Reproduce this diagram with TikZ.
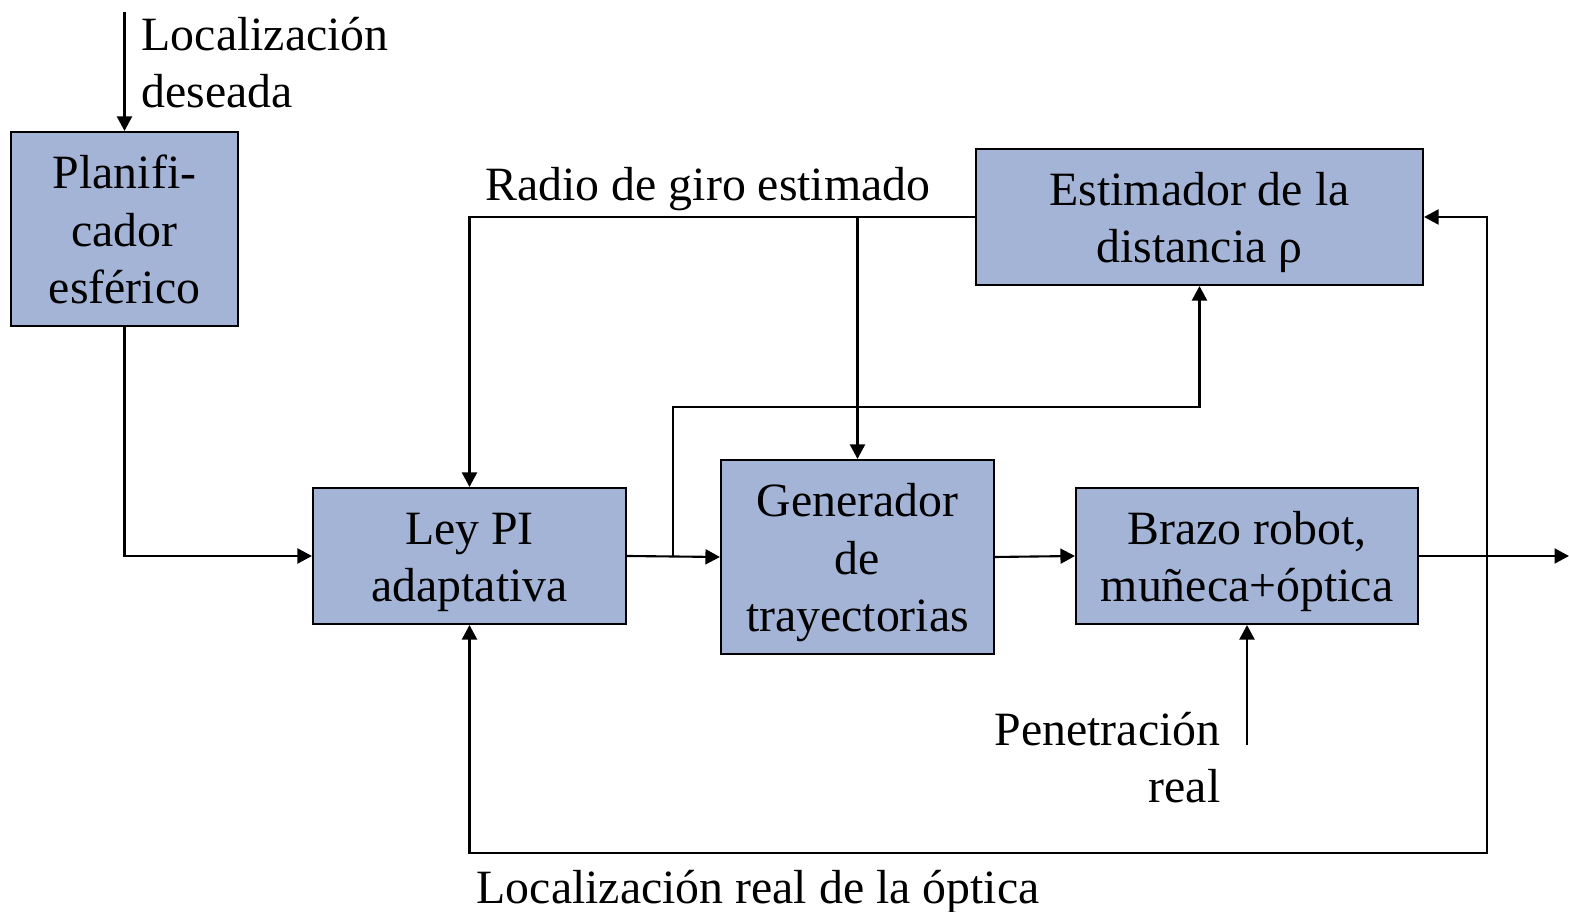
\documentclass[tikz,border=0pt]{standalone}
\usepackage{fontspec}
\setmainfont{Liberation Serif}
\usetikzlibrary{arrows.meta,positioning,calc}
\definecolor{steel}{RGB}{164,180,214}
\definecolor{ink}{RGB}{0,0,0}
\newcommand{\topgap}{\rule{0pt}{0.94em}}
\tikzset{
  >={Triangle[length=1.45mm,width=1.5mm]},
  box/.style={draw=ink,fill=steel,line width=0.6pt,inner sep=0pt,
    align=center,font=\fontsize{13.6}{16.3}\selectfont,
    execute at end node={\rule[-0.22em]{0pt}{0pt}}},
  flow/.style={->,line width=0.6pt,draw=ink},
  tag/.style={font=\fontsize{13.6}{16.3}\selectfont,inner sep=0pt},
}
\begin{document}
\begin{tikzpicture}
  \useasboundingbox (0,0) rectangle (15.69,9.12);
  % blocks
  \node[box,minimum width=22.7mm,minimum height=19.4mm] (plan) at (1.245,6.83) {\topgap Planifi-\\cador\\esférico};
  \node[box,minimum width=31.3mm,minimum height=13.6mm] (ley) at (4.695,3.56) {\topgap Ley PI\\adaptativa};
  \node[box,minimum width=27.3mm,minimum height=19.4mm] (gen) at (8.575,3.55) {\topgap Generador\\de\\trayectorias};
  \node[box,minimum width=34.2mm,minimum height=13.6mm] (brazo) at (12.47,3.56) {\topgap Brazo robot,\\muñeca+óptica};
  \node[box,minimum width=44.7mm,minimum height=13.6mm] (est) at (11.995,6.95) {\topgap Estimador de la\\distancia ρ};
  % free ends and branch points
  \coordinate (in) at (1.245,9.0);
  \coordinate (out) at (15.69,3.56);
  \coordinate (bra1) at (6.73,3.56);
  \coordinate (upturn) at (6.73,5.05);
  \coordinate (bra2) at (14.87,3.56);
  \coordinate (low) at (14.87,0.59);
  \coordinate (pen) at (12.47,1.67);
  \coordinate (tap) at (gen.north |- est.west);
  % connectors
  \draw[flow] (in) -- (plan.north);
  \draw[flow] (plan.south) |- (ley.west);
  \draw[flow] (ley.east) -- (gen.west);
  \draw[flow] (gen.east) -- (brazo.west);
  \draw[flow] (brazo.east) -- (out);
  \draw[flow] (bra1) -- (upturn) -| (est.south);
  \draw[flow] (est.west) -| (ley.north);
  \draw[flow] (tap) -- (gen.north);
  \draw[flow] (bra2) |- (est.east);
  \draw[flow] (bra2) -- (low) -| (ley.south);
  \draw[flow] (pen) -- (brazo.south);
  % labels
  \node[tag,anchor=base west,align=left] (tdes) at (1.41,8.04) {Localización\\deseada};
  \node[tag,anchor=base west] (tradio) at (4.85,7.11) {Radio de giro estimado};
  \node[tag,anchor=base east,align=right] (tpen) at (12.21,1.09) {Penetración\\real};
  \node[tag,anchor=base west] (treal) at (4.76,0.08) {Localización real de la óptica};
\end{tikzpicture}
\end{document}
